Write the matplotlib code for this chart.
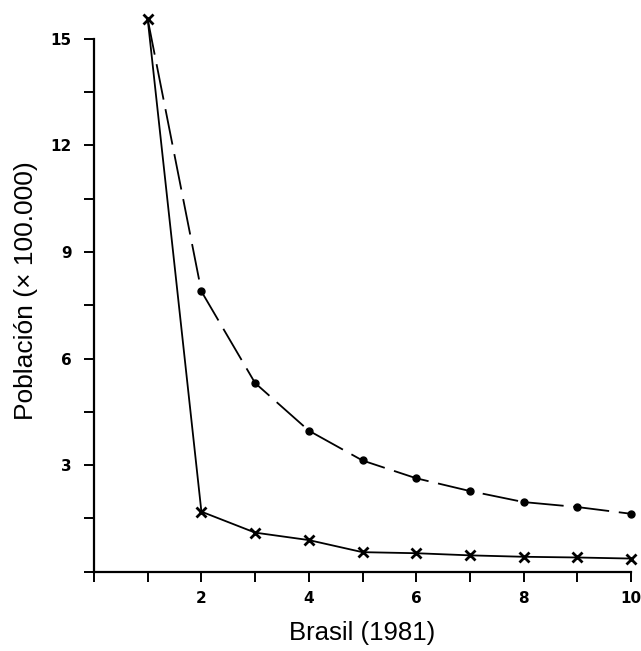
import matplotlib
matplotlib.use("Agg")
import matplotlib.pyplot as plt
from matplotlib.ticker import FixedLocator

# Data
x_vals = [1, 2, 3, 4, 5, 6, 7, 8, 9, 10]
cross_series = [15.55, 1.69, 1.10, 0.89, 0.55, 0.52, 0.46, 0.42, 0.40, 0.37]
dot_series = [15.55, 7.89, 5.31, 3.97, 3.13, 2.63, 2.27, 1.96, 1.82, 1.63]
x_major = [0, 1, 2, 3, 4, 5, 6, 7, 8, 9, 10]
x_labels = ["", "", "2", "", "4", "", "6", "", "8", "", "10"]
y_major = [0, 3, 6, 9, 12, 15]
y_labels = ["", "3", "6", "9", "12", "15"]
y_minor = [1.5, 4.5, 7.5, 10.5, 13.5]

plt.rcParams["lines.scale_dashes"] = False

fig = plt.figure(figsize=(6.41, 6.51), dpi=100)
ax = fig.add_axes([94 / 641, (651 - 571.7) / 651, (631 - 94) / 641, 15.8 * 35.53 / 651])

ax.plot(x_vals, dot_series, color="black", lw=1.3, dashes=(26, 7),
        marker="o", ms=5, markevery=slice(1, None), clip_on=False, zorder=3)
ax.plot(x_vals, cross_series, color="black", lw=1.3, marker="x", ms=6.5,
        mew=2.0, clip_on=False, zorder=4)

ax.set_xlim(0, 10)
ax.set_ylim(0, 15.8)

for s in ["top", "right"]:
    ax.spines[s].set_visible(False)
ax.spines["left"].set_bounds(0, 15)
ax.spines["bottom"].set_bounds(0, 10)
ax.spines["left"].set_linewidth(1.6)
ax.spines["bottom"].set_linewidth(1.6)

ax.xaxis.set_major_locator(FixedLocator(x_major))
ax.set_xticklabels(x_labels)
ax.yaxis.set_major_locator(FixedLocator(y_major))
ax.set_yticklabels(y_labels)
ax.yaxis.set_minor_locator(FixedLocator(y_minor))

ax.tick_params(axis="both", which="both", direction="out", length=7, width=1.4,
               color="black")
ax.tick_params(axis="x", which="major", pad=7)
ax.tick_params(axis="y", which="major", pad=9)
for lab in ax.get_xticklabels() + ax.get_yticklabels():
    lab.set_fontfamily("DejaVu Sans")
    lab.set_fontweight("bold")
    lab.set_fontsize(11)

ax.set_xlabel("Brasil (1981)", fontfamily="Liberation Sans", fontsize=18.5, labelpad=11)
ax.set_ylabel("Población (× 100.000)", fontfamily="Liberation Sans", fontsize=19, labelpad=9)

fig.savefig("out.png", dpi=100)
